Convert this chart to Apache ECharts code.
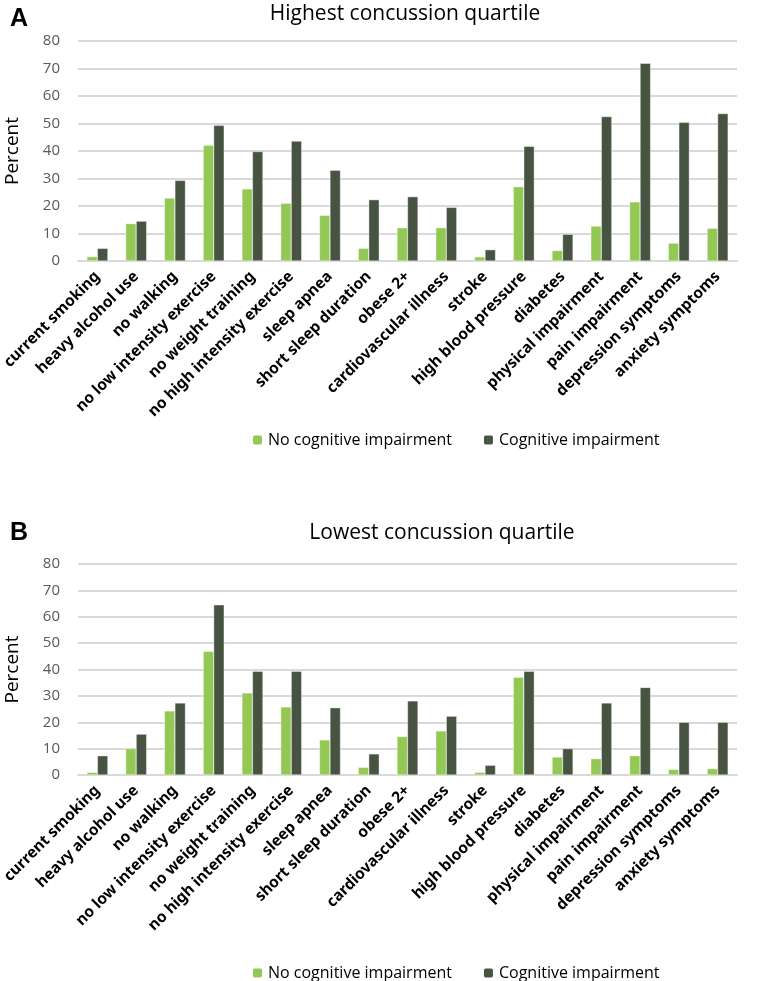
<!DOCTYPE html>
<html>
<head>
<meta charset="utf-8">
<script src="https://cdn.jsdelivr.net/npm/echarts@6/dist/echarts.min.js"></script>
<style>
  html, body { margin: 0; padding: 0; background: #fff; }
  #chart { width: 771px; height: 981px; }
</style>
</head>
<body>
<div id="chart"></div>
<script>
const categories = ['current smoking', 'heavy alcohol use', 'no walking', 'no low intensity exercise',
  'no weight training', 'no high intensity exercise', 'sleep apnea', 'short sleep duration', 'obese 2+',
  'cardiovascular illness', 'stroke', 'high blood pressure', 'diabetes', 'physical impairment',
  'pain impairment', 'depression symptoms', 'anxiety symptoms'];

// panel A: highest concussion quartile
const highNoImpair = [1.6, 13.6, 22.9, 42.1, 26.2, 21.0, 16.6, 4.6, 12.1, 12.1, 1.5, 27.0, 3.8, 12.7, 21.5, 6.5, 11.9];
const highImpair = [4.6, 14.5, 29.3, 49.3, 39.8, 43.6, 33.0, 22.3, 23.4, 19.5, 4.1, 41.7, 9.7, 52.5, 71.9, 50.4, 53.6];

// panel B: lowest concussion quartile
const lowNoImpair = [1.0, 10.0, 24.3, 46.9, 31.1, 25.8, 13.3, 2.9, 14.6, 16.7, 1.0, 37.0, 6.8, 6.2, 7.3, 2.1, 2.4];
const lowImpair = [7.3, 15.5, 27.3, 64.5, 39.3, 39.3, 25.5, 8.0, 28.1, 22.3, 3.7, 39.3, 10.0, 27.3, 33.2, 20.0, 20.0];

const yTicks = { min: 0, max: 80, interval: 10 };
const seriesNames = ['No cognitive impairment', 'Cognitive impairment'];
const lightGreen = '#92c853';
const darkGreen = '#475441';
const labelFont = "'Liberation Sans Narrow', 'Noto Sans', sans-serif";
const textFont = "'Open Sans', 'Noto Sans', sans-serif";

function xAxisFor(idx) {
  return {
    type: 'category', gridIndex: idx, data: categories,
    axisTick: { show: false },
    axisLine: { lineStyle: { color: '#d9d9d9', width: 2 } },
    axisLabel: {
      interval: 0, rotate: 45, margin: 13, color: '#000',
      fontWeight: 'bold', fontSize: 15.5, fontFamily: labelFont
    }
  };
}

function yAxisFor(idx) {
  return {
    type: 'value', gridIndex: idx, min: yTicks.min, max: yTicks.max, interval: yTicks.interval,
    name: 'Percent', nameLocation: 'middle', nameGap: 56,
    nameTextStyle: { fontSize: 19, color: '#000', fontFamily: textFont },
    axisLabel: { fontSize: 15, color: '#595959', margin: 18, fontFamily: textFont },
    splitLine: { lineStyle: { color: '#d9d9d9', width: 2 } }
  };
}

function barSeries(name, data, idx, color) {
  return {
    name: name, type: 'bar', data: data, xAxisIndex: idx, yAxisIndex: idx,
    barWidth: 10.5, barGap: '0%',
    itemStyle: { color: color, borderColor: '#ffffff', borderWidth: 0.4 }
  };
}

const chart = echarts.init(document.getElementById('chart'));
chart.setOption({
  animation: false,
  title: [
    { text: 'A', left: 5, top: 2, textStyle: { fontSize: 25, fontWeight: 'bold', color: '#000', fontFamily: 'Liberation Sans' } },
    { text: 'Highest concussion quartile', left: 400, top: -1, textAlign: 'center',
      textStyle: { fontSize: 21, fontWeight: 'normal', color: '#000', fontFamily: textFont } },
    { text: 'B', left: 5, top: 516, textStyle: { fontSize: 25, fontWeight: 'bold', color: '#000', fontFamily: 'Liberation Sans' } },
    { text: 'Lowest concussion quartile', left: 437, top: 518, textAlign: 'center',
      textStyle: { fontSize: 21, fontWeight: 'normal', color: '#000', fontFamily: textFont } }
  ],
  legend: [
    { data: seriesNames, top: 427, left: 246, itemWidth: 11, itemHeight: 11, itemGap: 30,
      textStyle: { fontSize: 16, color: '#000', fontFamily: textFont } },
    { data: seriesNames, top: 960, left: 246, itemWidth: 11, itemHeight: 11, itemGap: 30,
      textStyle: { fontSize: 16, color: '#000', fontFamily: textFont } }
  ],
  grid: [
    { left: 78, right: 34, top: 41, height: 220, outerBoundsMode: 'none' },
    { left: 78, right: 34, top: 564, height: 211, outerBoundsMode: 'none' }
  ],
  xAxis: [xAxisFor(0), xAxisFor(1)],
  yAxis: [yAxisFor(0), yAxisFor(1)],
  series: [
    barSeries(seriesNames[0], highNoImpair, 0, lightGreen),
    barSeries(seriesNames[1], highImpair, 0, darkGreen),
    barSeries(seriesNames[0], lowNoImpair, 1, lightGreen),
    barSeries(seriesNames[1], lowImpair, 1, darkGreen)
  ]
});
</script>
</body>
</html>
